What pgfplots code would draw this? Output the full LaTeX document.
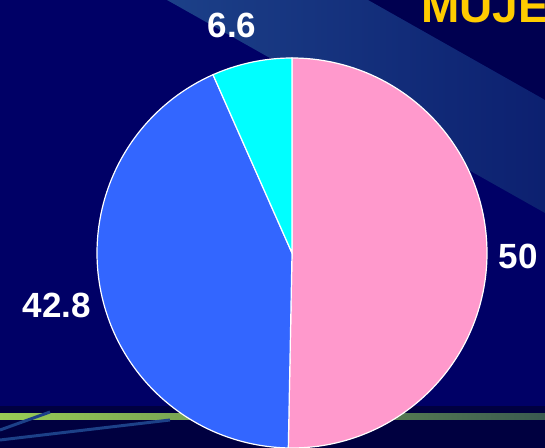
\documentclass[border=0pt]{standalone}
\usepackage{pgfplots}
\pgfplotsset{compat=1.18}
\usepackage{fontspec}
\setmainfont{Liberation Sans}
\definecolor{bgc}{HTML}{000066}
\definecolor{bgdark}{HTML}{000050}
\definecolor{bgbottom}{HTML}{000040}
\definecolor{bandl}{HTML}{1C4088}
\definecolor{bandr}{HTML}{0C2070}
\definecolor{greenl}{HTML}{99CC55}
\definecolor{greenr}{HTML}{3A5A50}
\definecolor{pinkc}{HTML}{FF99CC}
\definecolor{bluec}{HTML}{3366FF}
\definecolor{cyanc}{HTML}{00FFFF}
\definecolor{labc}{HTML}{FFCC00}
% data
\def\vA{50}
\def\vB{42.8}
\def\vC{6.6}
\pgfmathsetmacro\tot{\vA+\vB+\vC}
\pgfmathsetmacro\aA{90}
\pgfmathsetmacro\aB{90-\vA/\tot*360}
\pgfmathsetmacro\aC{\aB-\vB/\tot*360}
\pgfmathsetmacro\aD{\aC-\vC/\tot*360}
\begin{document}
\begin{tikzpicture}
\path[use as bounding box] (0,0) rectangle (272.5pt,224pt);
\clip (0,0) rectangle (272.5pt,224pt);
\begin{axis}[
  at={(0,0)}, anchor=south west,
  width=272.5pt, height=224pt, scale only axis,
  xmin=0, xmax=545, ymin=0, ymax=448,
  hide axis, clip=false,
]
% background
\fill[bgc] (axis cs:0,0) rectangle (axis cs:545,448);
\fill[bgdark] (axis cs:368,448) -- (axis cs:545,448) -- (axis cs:545,348) -- cycle;
\shade[left color=bandl, right color=bandr] (axis cs:167,448) -- (axis cs:368,448) -- (axis cs:545,348) -- (axis cs:545,235) -- cycle;
\fill[bgbottom] (axis cs:0,0) rectangle (axis cs:545,42);
\shade[left color=greenl, right color=greenr] (axis cs:0,28) rectangle (axis cs:545,34);
\draw[bandl, line width=1.5pt] (axis cs:0,8) -- (axis cs:170,28);
\draw[bandl, line width=1.5pt] (axis cs:0,18) -- (axis cs:50,36);
% pie slices
\addplot[fill=pinkc, draw=white, line width=0.6pt, domain=\aB:\aA, samples=121]
  ({292+195*cos(x)},{195+195*sin(x)}) -- (axis cs:292,195) -- cycle;
\addplot[fill=bluec, draw=white, line width=0.6pt, domain=\aC:\aB, samples=121]
  ({292+195*cos(x)},{195+195*sin(x)}) -- (axis cs:292,195) -- cycle;
\addplot[fill=cyanc, draw=white, line width=0.6pt, domain=\aD:\aC, samples=31]
  ({292+195*cos(x)},{195+195*sin(x)}) -- (axis cs:292,195) -- cycle;
% labels
\node[text=white, font=\bfseries\fontsize{17.5pt}{20pt}\selectfont] at (axis cs:232,423) {6.6};
\node[text=white, font=\bfseries\fontsize{17.5pt}{20pt}\selectfont] at (axis cs:518,192) {50};
\node[text=white, font=\bfseries\fontsize{17.5pt}{20pt}\selectfont] at (axis cs:57,143) {42.8};
\node[text=labc, anchor=base west, inner sep=0pt, font=\bfseries\fontsize{23pt}{26pt}\selectfont] at (axis cs:421,425) {MUJE};
\end{axis}
\end{tikzpicture}
\end{document}
